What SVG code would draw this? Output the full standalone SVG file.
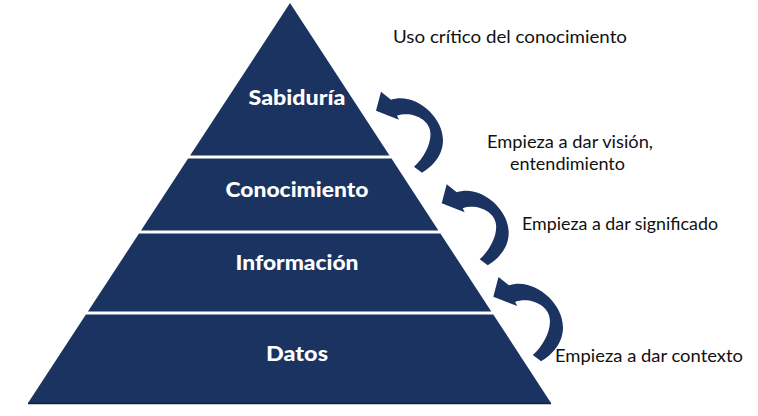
<svg xmlns="http://www.w3.org/2000/svg" xmlns:xlink="http://www.w3.org/1999/xlink" width="758" height="416" viewBox="0 0 758 416">
<style>
.layer{fill:#1b3360;}
.lbl{font-family:Lato,"Open Sans","Liberation Sans",sans-serif;font-weight:900;font-size:21px;fill:#ffffff;text-anchor:middle;}
.note{font-family:Lato,"Open Sans","Liberation Sans",sans-serif;font-size:18px;fill:#111111;}
.arrow{fill:#1b3360;}
</style>
<defs>
<path id="curvArrow" class="arrow" d="M0,0 L5,-19 L15,-11 C38,-19 67,5 67,29.5 C67,45 56,56 46,62 L38,56 C47,48 54.5,35 54.5,23.5 C54.5,8 35,0 21,5 L23,9 Z"/>
</defs>
<rect width="758" height="416" fill="#ffffff"/>
<g id="datos">
<polygon class="layer" points="85.9,314.5 493.3,314.5 551,403 28,403"/>
<line x1="28" y1="403.5" x2="551" y2="403.5" stroke="#0f1f3d" stroke-width="1.5"/>
<text class="lbl" x="297" y="361" textLength="62" lengthAdjust="spacingAndGlyphs">Datos</text>
</g>
<g id="informacion">
<polygon class="layer" points="139,233.5 440.4,233.5 491.3,311.5 87.9,311.5"/>
<text class="lbl" x="297" y="270" textLength="123" lengthAdjust="spacingAndGlyphs">Información</text>
</g>
<g id="conocimiento">
<polygon class="layer" points="188.1,158.5 391.5,158.5 438.4,230.5 141,230.5"/>
<text class="lbl" x="297" y="197" textLength="143" lengthAdjust="spacingAndGlyphs">Conocimiento</text>
</g>
<g id="sabiduria">
<polygon class="layer" points="290,3 389.5,155.5 190.1,155.5"/>
<text class="lbl" x="297" y="105" textLength="97" lengthAdjust="spacingAndGlyphs">Sabiduría</text>
</g>
<g id="connectors">
<use xlink:href="#curvArrow" transform="translate(376,110.7)"/>
<use xlink:href="#curvArrow" transform="translate(441.7,203.3)"/>
<use xlink:href="#curvArrow" transform="translate(493.3,296.7) scale(1.04)"/>
</g>
<g id="labels">
<text class="note" x="393" y="43" textLength="234" lengthAdjust="spacingAndGlyphs">Uso crítico del conocimiento</text>
<text class="note" x="487" y="148" textLength="166" lengthAdjust="spacingAndGlyphs">Empieza a dar visión,</text>
<text class="note" x="510" y="170" textLength="115" lengthAdjust="spacingAndGlyphs">entendimiento</text>
<text class="note" x="522" y="230" textLength="196" lengthAdjust="spacingAndGlyphs">Empieza a dar significado</text>
<text class="note" x="555" y="362" textLength="188" lengthAdjust="spacingAndGlyphs">Empieza a dar contexto</text>
</g>
</svg>
